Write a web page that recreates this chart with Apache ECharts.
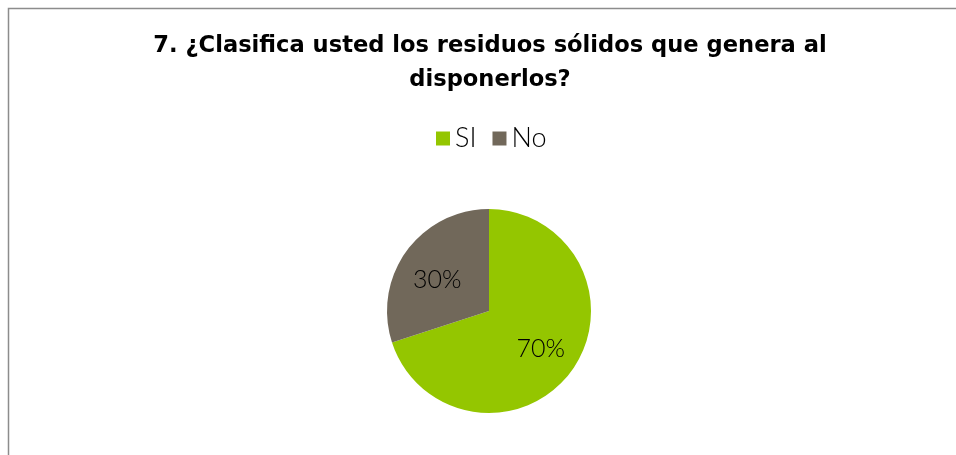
<!DOCTYPE html>
<html>
<head>
<meta charset="utf-8">
<script src="https://cdn.jsdelivr.net/npm/echarts@6/dist/echarts.min.js"></script>
<style>
html,body{margin:0;padding:0;background:#fff;}
#c{width:956px;height:455px;}
</style>
</head>
<body>
<div id="c"></div>
<script>
const titleText = '7. ¿Clasifica usted los residuos sólidos que genera al\ndisponerlos?';
const categories = ['SI', 'No'];
const values = [70, 30];
const colors = ['#94C600', '#71685A'];

const chart = echarts.init(document.getElementById('c'));
const data = categories.map((c, i) => ({ name: c, value: values[i], itemStyle: { color: colors[i] } }));
const labelOffsets = [[0, 0], [0, 7]];

chart.setOption({
  animation: false,
  backgroundColor: '#ffffff',
  graphic: [{
    type: 'rect',
    shape: { x: 8.5, y: 8.5, width: 1000, height: 1000 },
    style: { fill: 'none', stroke: '#8c8c8c', lineWidth: 1.5 },
    silent: true
  }],
  title: {
    text: titleText,
    left: 485,
    textAlign: 'center',
    top: 24,
    textStyle: {
      fontFamily: 'DejaVu Sans',
      fontWeight: 'bold',
      fontSize: 22.6,
      color: '#000',
      lineHeight: 34
    }
  },
  legend: {
    data: categories,
    top: 120,
    left: 431,
    itemWidth: 14,
    itemHeight: 14,
    itemGap: 16,
    icon: 'rect',
    textStyle: { fontFamily: 'Lato', fontSize: 27, color: '#000', fontWeight: 300 }
  },
  series: [{
    type: 'pie',
    center: [489, 311],
    radius: [0, 102],
    startAngle: 90,
    clockwise: true,
    label: { show: false },
    labelLine: { show: false },
    emphasis: { disabled: true },
    data: data
  }, {
    type: 'pie',
    center: [489, 311],
    radius: [20, 102],
    startAngle: 90,
    clockwise: true,
    silent: true,
    itemStyle: { color: 'rgba(0,0,0,0)' },
    label: {
      show: true,
      position: 'inside',
      formatter: p => p.value + '%',
      fontFamily: 'Lato',
      fontWeight: 300,
      fontSize: 25,
      color: '#000'
    },
    labelLine: { show: false },
    emphasis: { disabled: true },
    data: categories.map((c, i) => ({ name: c, value: values[i], label: { offset: labelOffsets[i] } }))
  }]
});
</script>
</body>
</html>
